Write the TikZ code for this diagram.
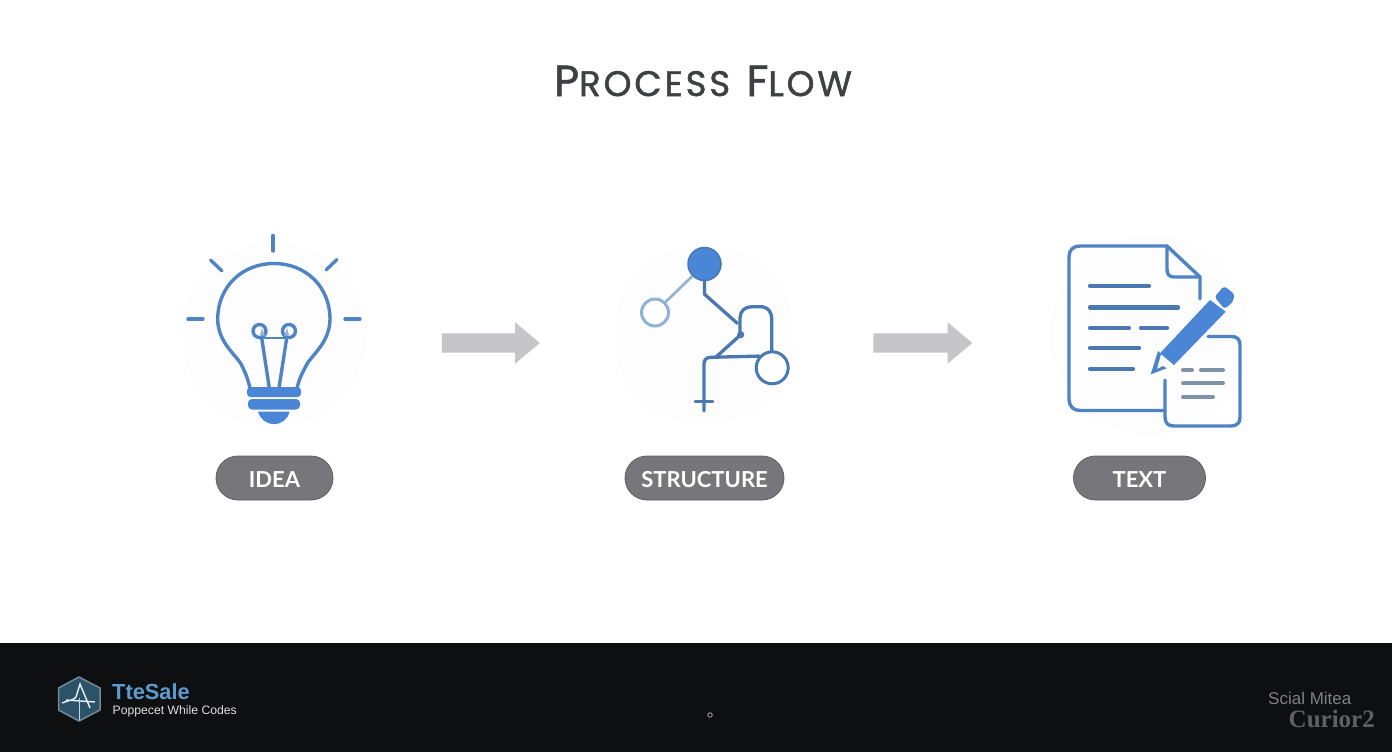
\documentclass[tikz,border=0pt]{standalone}
\usepackage{fontspec}
\setmainfont{Lato}
\newfontfamily\titlefont[LetterSpace=8,FakeBold=1.3]{Poppins}
\newfontfamily\footfont{Liberation Sans}
\newfontfamily\oldfont{Liberation Serif}
\usetikzlibrary{shapes.misc,shapes.arrows}
\definecolor{iconblue}{HTML}{4F84C4}
\definecolor{fillblue}{HTML}{4A85D6}
\definecolor{darkline}{HTML}{4A78B0}
\definecolor{paleblue}{HTML}{8FB2D2}
\definecolor{arrowgrey}{HTML}{C6C6CA}
\definecolor{pillgrey}{HTML}{77777B}
\definecolor{pilledge}{HTML}{5F5F63}
\definecolor{barblack}{HTML}{0E0F11}
\definecolor{titlegrey}{HTML}{3F4043}
\definecolor{halo}{HTML}{FDFDFD}
\definecolor{linegrey}{HTML}{7F93A8}
\definecolor{saleblue}{HTML}{5C9BD0}
\definecolor{logofill}{HTML}{2C5268}
\tikzset{
  x=1pt,y=-1pt,
  iconline/.style={draw=iconblue,line width=3.4pt,line cap=round,line join=round},
  docline/.style={draw=darkline,line width=4.2pt,line cap=round},
  noteline/.style={draw=linegrey,line width=4pt,line cap=round},
  treeline/.style={draw=darkline,line width=3.3pt,line cap=round,line join=round},
  pill/.style={rounded rectangle,draw=pilledge,line width=.8pt,fill=pillgrey,text=white,minimum height=44pt,inner sep=0pt,text height=18.5pt,text depth=0pt,font=\fontsize{22}{22}\selectfont\bfseries},
  flowarrow/.style={single arrow,fill=arrowgrey,draw=none,minimum height=98pt,minimum width=41pt,single arrow head extend=11pt,single arrow tip angle=80,inner xsep=0pt,inner ysep=9.5pt},
  halodisc/.style={fill=halo,draw=none},
}
\begin{document}
\begin{tikzpicture}
\useasboundingbox (0,0) rectangle (1392,752);
\fill[white] (0,0) rectangle (1392,752);
\fill[barblack] (0,643) rectangle (1392,752);
% halos
\fill[halodisc] (274,335) circle (92);
\fill[halodisc] (704,335) circle (90);
\fill[halodisc] (1150,335) circle (100);
% title
\node[text=titlegrey,inner sep=0pt] (title) at (703,81) {\titlefont\fontsize{43.5}{43.5}\selectfont P\fontsize{35.5}{35.5}\selectfont ROCESS\hspace{4pt} \fontsize{43.5}{43.5}\selectfont F\fontsize{35.5}{35.5}\selectfont LOW};
% bulb
\draw[iconline] (250,388) .. controls (247,376) and (245,372) .. (241,364) .. controls (236,355) and (217.7,342) .. (217.7,319) .. controls (217.7,287) and (242,263.5) .. (274,263.5) .. controls (306,263.5) and (330,287) .. (330,319) .. controls (330,342) and (312,355) .. (307,364) .. controls (303,372) and (300,376) .. (297,388);
\draw[iconline] (273,235.5) -- (273,251);
\draw[iconline] (210.5,260) -- (222,271);
\draw[iconline] (337,259.5) -- (326,270);
\draw[iconline] (188,319) -- (203,319);
\draw[iconline] (345,319) -- (360,319);
\draw[iconline] (261.7,338) -- (269.3,388) (286.7,338) -- (279,388);
\draw[iconline,line width=2.5pt] (262,338) -- (287,338);
\draw[iconline] (259.5,331) circle (6.5);
\draw[iconline] (289,331) circle (6.5);
\fill[iconblue!60] (262,328) -- (265,336) -- (260,335) -- cycle;
\fill[iconblue!60] (287,328) -- (284,336) -- (289,335) -- cycle;
\fill[fillblue,rounded corners=3.5pt] (247,387) rectangle (301,397);
\fill[fillblue,rounded corners=4pt] (248,399) rectangle (300,409.5);
\fill[fillblue] (258,411.5) -- (289.5,411.5) .. controls (288,419) and (282,424) .. (274,424) .. controls (266,424) and (260,419) .. (258,411.5) -- cycle;
% structure
\node[circle,draw=paleblue,line width=3pt,minimum size=27pt,inner sep=0pt,fill=white] (leftcircle) at (655,312.5) {};
\node[circle,draw=darkline,line width=1.5pt,fill=fillblue,minimum size=33pt,inner sep=0pt] (topcircle) at (704.5,264) {};
\draw[draw=paleblue,line width=2.6pt] (topcircle.-135) -- (leftcircle.45);
\draw[treeline] (topcircle.south) -- (704.6,294.3) -- (737.3,323.3);
\draw[treeline] (740,333) -- (740,318) .. controls (740,311) and (745,306.7) .. (752,306.7) -- (760,306.7) .. controls (768,306.7) and (771.7,311) .. (771.7,320) -- (771.7,352);
\fill[darkline] (740.7,334.7) circle (3.6);
\draw[treeline] (740.7,334.7) -- (716,357);
\node[circle,draw=darkline,line width=3pt,minimum size=32pt,inner sep=0pt,fill=white] (rightcircle) at (772.2,367.8) {};
\draw[treeline] (rightcircle.138) -- (711,357.3) .. controls (706,357.3) and (704,360) .. (704,364) -- (704,411);
\draw[treeline,line width=2.6pt] (695,401.7) -- (713,401.7);
% document
\draw[iconline] (1200,299) -- (1200,277) -- (1167,246) -- (1080,246) .. controls (1073,246) and (1069,250) .. (1069,257) -- (1069,399) .. controls (1069,406) and (1073,410.5) .. (1080,410.5) -- (1165,410.5);
\draw[iconline] (1167,246) -- (1167,269) .. controls (1167,274) and (1169,277) .. (1174,277) -- (1200,277);
\draw[docline] (1090,286) -- (1149,286);
\draw[docline] (1090,307.5) -- (1178,307.5);
\draw[docline] (1090,328) -- (1129,328);
\draw[docline] (1141,328) -- (1167,328);
\draw[docline] (1090,348) -- (1139,348);
\draw[docline] (1090,369) -- (1133,369);
% pen
\fill[fillblue] (1160,353.3) -- (1210,300) -- (1225.7,311.7) -- (1174,365) -- cycle;
\fill[fillblue,rounded corners=3pt] (1214.5,297) -- (1224,286) -- (1234.5,294) -- (1233,302) -- (1224.5,309) -- cycle;
\fill[iconblue] (1158,351) -- (1150.7,374.3) -- (1166.7,368.3) -- (1163,366) -- (1157,369) -- (1161,354) -- cycle;
% note
\draw[iconline] (1208,336.5) -- (1231,336.5) .. controls (1237,336.5) and (1240,339) .. (1240,345) -- (1240,417) .. controls (1240,423) and (1237,426) .. (1231,426) -- (1174,426) .. controls (1168,426) and (1165,423) .. (1165,417) -- (1165,380);
\draw[noteline] (1183,370) -- (1192,370);
\draw[noteline] (1201,370) -- (1223,370);
\draw[noteline] (1183,383.3) -- (1223,383.3);
\draw[noteline] (1183,397) -- (1213,397);
% arrows
\node[flowarrow] (arrowone) at (485,343) {};
\node[flowarrow,minimum height=99pt] (arrowtwo) at (917,343) {};
% pills
\node[pill,minimum width=117pt] (idea) at (274.5,478) {IDEA};
\node[pill,minimum width=159pt] (structure) at (704.5,478) {STRUCTURE};
\node[pill,minimum width=132pt] (text) at (1139.5,478) {TEXT};
% footer logo
\fill[fill=logofill,draw=gray!70!saleblue,line width=1.5pt] (79,677) -- (100,688) -- (100,710) -- (79,721) -- (58.5,710) -- (58.5,688) -- cycle;
\draw[white!85!saleblue,line width=1.4pt] (62,703) .. controls (70,700) and (74,700) .. (76,697) -- (80,684) -- (90,708) (66,700) -- (95,702);
\draw[white!60!saleblue,line width=1pt] (79,698) -- (79,720);
\node[text=saleblue,inner sep=0pt,anchor=west] (brand) at (112,692) {\footfont\fontsize{21.8}{21.8}\selectfont\bfseries TteSale};
\node[text=white!88!black,inner sep=0pt,anchor=west] (tagline) at (112.5,711) {\footfont\fontsize{12.2}{12.2}\selectfont Poppecet While Codes};
\node[circle,draw=white!70!black,line width=.8pt,minimum size=4.5pt,inner sep=0pt] (dot) at (710,715) {};
\node[text=white!50!black,inner sep=0pt,anchor=west] (social) at (1268,698.5) {\footfont\fontsize{17}{17}\selectfont Scial Mitea};
\node[text=white!38!black,inner sep=0pt,anchor=east] (curior) at (1375,718.5) {\oldfont\bfseries\fontsize{25}{25}\selectfont Curior2};
\end{tikzpicture}
\end{document}
